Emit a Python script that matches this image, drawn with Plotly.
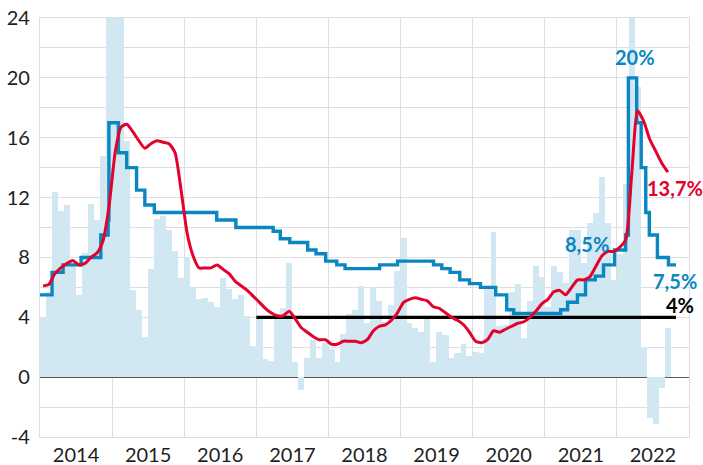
import pandas as pd
import plotly.graph_objects as go

# ---- data -------------------------------------------------------------
# monthly price growth, annualised (%), Jan 2014 .. Sep 2022 (values above 24 run off the chart)
monthly_growth = [
    4.0, 5.7, 12.4, 11.1, 11.5, 7.5, 5.5, 8.3, 11.6, 10.5, 14.8, 30.0,
    38.0, 28.0, 15.8, 5.8, 4.5, 2.7, 7.2, 10.6, 10.8, 9.8, 8.4, 6.6,
    8.0, 6.0, 5.2, 5.3, 5.0, 4.7, 6.6, 5.9, 5.2, 5.5, 4.1, 2.1,
    4.1, 1.2, 1.1, 4.2, 4.6, 7.6, 1.0, -0.85, 1.3, 2.5, 1.3, 2.3,
    1.9, 1.0, 2.9, 4.2, 4.5, 6.1, 3.6, 6.0, 5.1, 3.7, 4.8, 7.1,
    9.3, 3.6, 3.3, 3.0, 4.1, 1.0, 3.0, 2.8, 1.3, 1.6, 2.2, 1.4,
    1.7, 1.6, 5.9, 9.7, 3.4, 3.5, 5.7, 6.2, 2.6, 5.1, 7.4, 6.7,
    4.7, 7.4, 7.0, 6.3, 9.8, 9.8, 7.6, 10.3, 11.0, 13.4, 10.3, 6.5,
    8.2, 12.9, 30.0, 19.4, 2.0, -2.7, -3.1, -0.7, 3.3,
]

# annual inflation (%), Jan 2014 .. Sep 2022
inflation = [
    6.1, 6.2, 6.9, 7.3, 7.6, 7.8, 7.5, 7.6, 8.0, 8.3, 9.1, 11.4,
    15.0, 16.7, 16.9, 16.4, 15.8, 15.3, 15.6, 15.8, 15.7, 15.6, 15.0, 12.5,
    9.6, 8.1, 7.3, 7.3, 7.3, 7.5, 7.2, 6.9, 6.4, 6.1, 5.8, 5.4,
    5.0, 4.6, 4.3, 4.1, 4.1, 4.4, 3.9, 3.3, 3.0, 2.7, 2.5, 2.5,
    2.2, 2.2, 2.4, 2.4, 2.4, 2.3, 2.5, 3.1, 3.4, 3.5, 3.8, 4.3,
    5.0, 5.2, 5.3, 5.2, 5.1, 4.7, 4.6, 4.3, 4.0, 3.8, 3.5, 3.0,
    2.4, 2.3, 2.5, 3.1, 3.0, 3.2, 3.4, 3.6, 3.7, 4.0, 4.4, 4.9,
    5.2, 5.7, 5.8, 5.5, 6.0, 6.5, 6.5, 6.7, 7.4, 8.1, 8.4, 8.4,
    8.7, 9.2, 13.5, 17.8, 17.1, 15.9, 15.1, 14.3, 13.7,
]

# key rate (%), effective dates of changes
rate_dates = [
    "2014-01-01", "2014-03-03", "2014-04-28", "2014-07-28", "2014-11-05", "2014-12-12",
    "2014-12-16", "2015-02-02", "2015-03-16", "2015-05-05", "2015-06-16", "2015-08-03",
    "2016-06-14", "2016-09-19", "2017-03-27", "2017-05-02", "2017-06-19", "2017-09-18",
    "2017-10-30", "2017-12-18", "2018-02-12", "2018-03-26", "2018-09-17", "2018-12-17",
    "2019-06-17", "2019-07-29", "2019-09-09", "2019-10-28", "2019-12-16", "2020-02-10",
    "2020-04-27", "2020-06-22", "2020-07-27", "2021-03-22", "2021-04-26", "2021-06-15",
    "2021-07-26", "2021-09-13", "2021-10-25", "2021-12-20", "2022-02-14", "2022-02-28",
    "2022-04-11", "2022-05-04", "2022-05-27", "2022-06-14", "2022-07-25", "2022-09-19",
    "2022-10-27",
]
rate_values = [
    5.5, 7.0, 7.5, 8.0, 9.5, 10.5,
    17.0, 15.0, 14.0, 12.5, 11.5, 11.0,
    10.5, 10.0, 9.75, 9.25, 9.0, 8.5,
    8.25, 7.75, 7.5, 7.25, 7.5, 7.75,
    7.5, 7.25, 7.0, 6.5, 6.25, 6.0,
    5.5, 4.5, 4.25, 4.5, 5.0, 5.5,
    6.5, 6.75, 7.5, 8.5, 9.5, 20.0,
    17.0, 14.0, 11.0, 9.5, 8.0, 7.5,
    7.5,
]

# inflation target
target_dates = ["2017-01-01", "2022-10-27"]
target_values = [4, 4]

y_ticks = [-4, 0, 4, 8, 12, 16, 20, 24]

# ---- helpers ----------------------------------------------------------
starts = pd.date_range("2014-01-01", periods=len(monthly_growth) + 1, freq="MS")
bar_x = [starts[i] + (starts[i + 1] - starts[i]) / 2 for i in range(len(monthly_growth))]
bar_w = [(starts[i + 1] - starts[i]).total_seconds() * 1000 for i in range(len(monthly_growth))]
cpi_x = bar_x[: len(inflation)]

LIGHT = "#d1e7f1"
BLUE = "#0a86c1"
RED = "#e4022d"
GRID = "#dedede"
TXT = "#1e1e1e"
FONT = "Lato"

fig = go.Figure()
fig.add_trace(go.Bar(x=bar_x, y=monthly_growth, width=bar_w, marker=dict(color=LIGHT, line=dict(width=0)),
                     showlegend=False))
fig.add_trace(go.Scatter(x=target_dates, y=target_values, mode="lines",
                         line=dict(color="#000000", width=3.3), showlegend=False))
fig.add_trace(go.Scatter(x=rate_dates, y=rate_values, mode="lines",
                         line=dict(color=BLUE, width=3.4, shape="hv"), showlegend=False))
fig.add_trace(go.Scatter(x=cpi_x, y=inflation, mode="lines",
                         line=dict(color=RED, width=3.0, shape="spline", smoothing=0.6), showlegend=False))

tickvals = list(range(-4, 25, 2))
ticktext = [str(v) if v in y_ticks else "" for v in tickvals]

fig.update_layout(
    width=703, height=465,
    margin=dict(l=40, r=14, t=18, b=28, autoexpand=False),
    paper_bgcolor="white", plot_bgcolor="white",
    bargap=0,
    font=dict(family=FONT, color=TXT, size=20),
    xaxis=dict(
        type="date", range=["2014-01-01", "2023-01-01"], automargin=False,
        tick0="2014-01-01", dtick="M12", tickformat="%Y", ticklabelmode="period",
        showgrid=True, gridcolor=GRID, gridwidth=1.3,
        showline=True, linecolor=GRID, linewidth=1.3, mirror=True,
        ticks="", ticklabelstandoff=0,
        tickfont=dict(family=FONT, size=20, color=TXT),
        zeroline=False,
    ),
    yaxis=dict(
        range=[-4, 24], tickmode="array", tickvals=tickvals, ticktext=ticktext, automargin=False,
        showgrid=True, gridcolor=GRID, gridwidth=1.3,
        showline=True, linecolor=GRID, linewidth=1.3, mirror=True,
        zeroline=True, zerolinecolor="#5a5a5a", zerolinewidth=1.3,
        ticks="outside", ticklen=5, tickcolor="rgba(0,0,0,0)",
        tickfont=dict(family=FONT, size=20, color=TXT),
    ),
)

# plot area in paper fractions: x 0..1 spans 40..689 px, y 0..1 spans 437..18 px
def label(text, px, py, color):
    fig.add_annotation(x=(px - 40) / 649.0, y=(437 - py) / 419.0, xref="paper", yref="paper",
                       text="<b>%s</b>" % text, showarrow=False,
                       font=dict(family=FONT, size=20, color=color), xanchor="center", yanchor="middle")

label("20%", 635, 57, BLUE)
label("8,5%", 587, 244, BLUE)
label("13,7%", 675, 187.5, RED)
label("7,5%", 675, 280.5, BLUE)
label("4%", 680, 305, "#000000")

fig.write_html("out.html", config={"displayModeBar": False},
               post_script="document.body.style.margin='0';document.body.style.overflow='hidden';")
